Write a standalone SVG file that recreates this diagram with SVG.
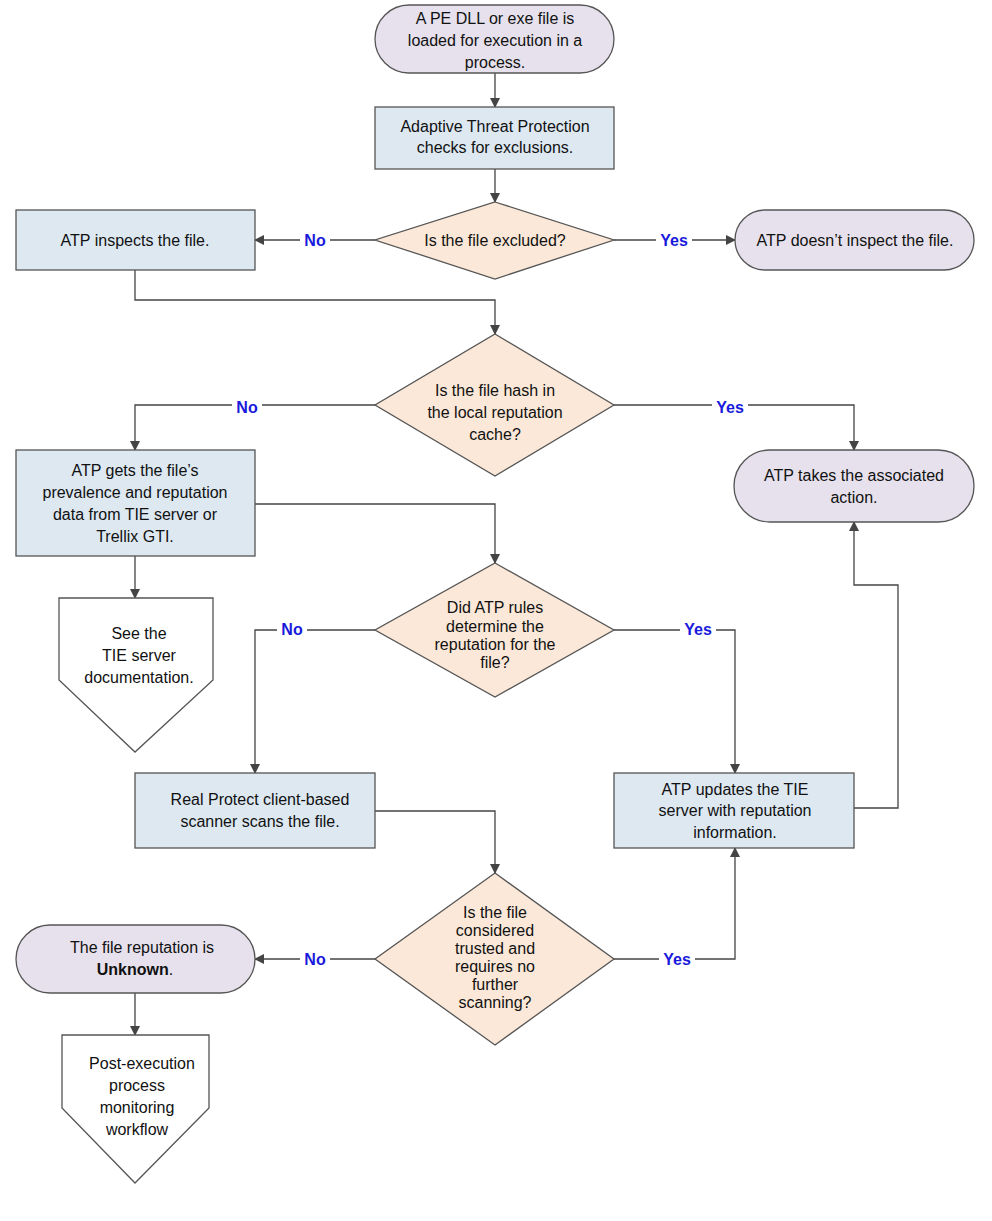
<svg xmlns="http://www.w3.org/2000/svg" width="992" height="1221" viewBox="0 0 992 1221">
<defs>
<marker id="a" markerWidth="10" markerHeight="10" refX="9" refY="5" orient="auto" markerUnits="userSpaceOnUse"><path d="M0,0 L10,5 L0,10 z" fill="#444"/></marker>
<style>
.t{fill:#e6e1ec;stroke:#555;stroke-width:1.3}
.b{fill:#dde8f1;stroke:#555;stroke-width:1.3}
.d{fill:#fbe8d8;stroke:#555;stroke-width:1.3}
.o{fill:#fff;stroke:#555;stroke-width:1.3}
text{font-family:"Liberation Sans",Arial,sans-serif;font-size:16px;fill:#111;text-anchor:middle}
.l{fill:#1a1adc;font-weight:bold}
.c path{fill:none;stroke:#444;stroke-width:1.3;marker-end:url(#a)}
</style>
</defs>
<rect width="992" height="1221" fill="#fff"/>
<g class="c">
<path d="M495,73V107"/><path d="M495,169V202"/>
<path d="M375,240H255"/><path d="M614,240H735"/>
<path d="M135,270V300H495V334"/>
<path d="M375,405H135V450"/><path d="M614,405H854V450"/>
<path d="M255,504H495V563"/><path d="M135,556V598"/>
<path d="M375,630H255V773"/><path d="M614,630H735V773"/>
<path d="M375,811H495V873"/>
<path d="M854,808H898V585H854V522"/>
<path d="M375,959H255"/><path d="M614,959H735V848"/>
<path d="M135,993V1035"/>
</g>
<g id="labels">
<rect x="300" y="230" width="30" height="20" fill="#fff"/><text class="l" x="315" y="246">No</text>
<rect x="656" y="230" width="36" height="20" fill="#fff"/><text class="l" x="674" y="246">Yes</text>
<rect x="232" y="396" width="30" height="20" fill="#fff"/><text class="l" x="247" y="413">No</text>
<rect x="712" y="396" width="36" height="20" fill="#fff"/><text class="l" x="730" y="413">Yes</text>
<rect x="277" y="620" width="30" height="20" fill="#fff"/><text class="l" x="292" y="635">No</text>
<rect x="680" y="620" width="36" height="20" fill="#fff"/><text class="l" x="698" y="635">Yes</text>
<rect x="300" y="949" width="30" height="20" fill="#fff"/><text class="l" x="315" y="965">No</text>
<rect x="659" y="949" width="36" height="20" fill="#fff"/><text class="l" x="677" y="965">Yes</text>
</g>
<g id="start"><rect class="t" x="375" y="5" width="239" height="68" rx="34"/>
<text x="495" y="24">A PE DLL or exe file is</text><text x="495" y="46">loaded for execution in a</text><text x="495" y="68">process.</text></g>
<g id="excl"><rect class="b" x="375" y="107" width="239" height="62"/>
<text x="495" y="132">Adaptive Threat Protection</text><text x="495" y="153">checks for exclusions.</text></g>
<g id="d1"><path class="d" d="M495,202L614,240L495,279L375,240z"/><text x="495" y="246">Is the file excluded?</text></g>
<g id="inspect"><rect class="b" x="16" y="210" width="239" height="60"/><text x="135" y="246">ATP inspects the file.</text></g>
<g id="noinspect"><rect class="t" x="735" y="210" width="239" height="60" rx="30"/><text x="855" y="246">ATP doesn’t inspect the file.</text></g>
<g id="d2"><path class="d" d="M495,334L614,405L495,476L375,405z"/>
<text x="495" y="396">Is the file hash in</text><text x="495" y="418">the local reputation</text><text x="495" y="440">cache?</text></g>
<g id="gets"><rect class="b" x="16" y="450" width="239" height="106"/>
<text x="135" y="476">ATP gets the file’s</text><text x="135" y="498">prevalence and reputation</text><text x="135" y="520">data from TIE server or</text><text x="135" y="542">Trellix GTI.</text></g>
<g id="action"><rect class="t" x="734" y="450" width="240" height="72" rx="36"/>
<text x="854" y="481">ATP takes the associated</text><text x="854" y="503">action.</text></g>
<g id="tiedoc"><path class="o" d="M59,598H213V680L135,752L59,680z"/>
<text x="139" y="639">See the</text><text x="139" y="661">TIE server</text><text x="139" y="683">documentation.</text></g>
<g id="d3"><path class="d" d="M495,563L614,630L495,697L375,630z"/>
<text x="495" y="613">Did ATP rules</text><text x="495" y="632">determine the</text><text x="495" y="650">reputation for the</text><text x="495" y="668">file?</text></g>
<g id="rp"><rect class="b" x="135" y="773" width="240" height="75"/>
<text x="260" y="805">Real Protect client-based</text><text x="260" y="827">scanner scans the file.</text></g>
<g id="upd"><rect class="b" x="614" y="773" width="240" height="75"/>
<text x="735" y="795">ATP updates the TIE</text><text x="735" y="816">server with reputation</text><text x="735" y="838">information.</text></g>
<g id="d4"><path class="d" d="M495,873L614,959L495,1045L375,959z"/>
<text x="495" y="918">Is the file</text><text x="495" y="936">considered</text><text x="495" y="954">trusted and</text><text x="495" y="972">requires no</text><text x="495" y="990">further</text><text x="495" y="1008">scanning?</text></g>
<g id="unknown"><rect class="t" x="16" y="925" width="239" height="68" rx="34"/>
<text x="142" y="953">The file reputation is</text><text x="135" y="975"><tspan font-weight="bold">Unknown</tspan>.</text></g>
<g id="post"><path class="o" d="M62,1035H209V1108L135,1183L62,1108z"/>
<text x="142" y="1069">Post-execution</text><text x="137" y="1091">process</text><text x="137" y="1113">monitoring</text><text x="137" y="1135">workflow</text></g>
</svg>
